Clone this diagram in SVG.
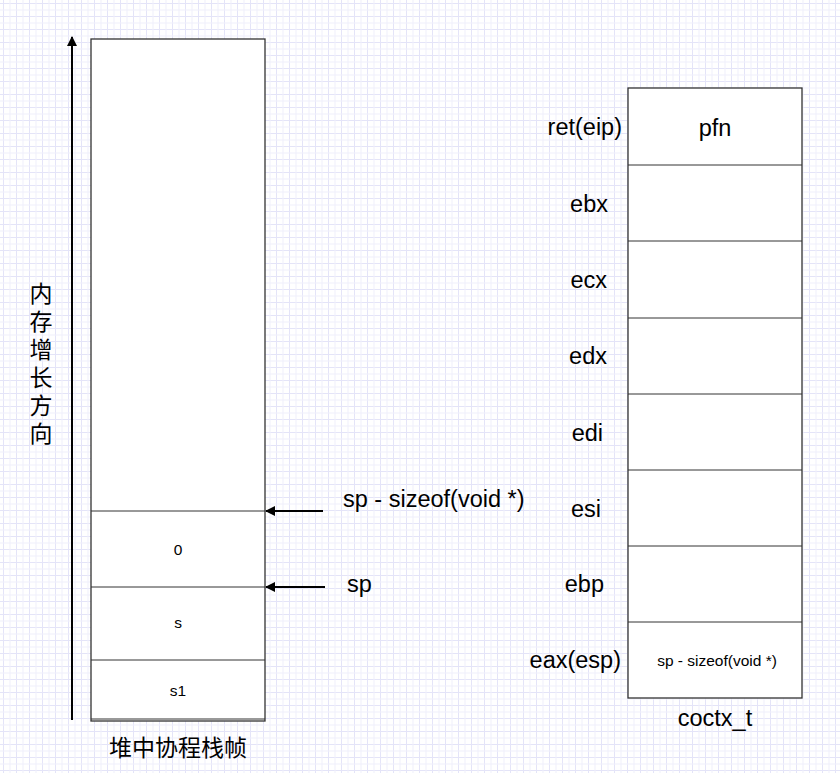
<svg xmlns="http://www.w3.org/2000/svg" width="840" height="773" viewBox="0 0 840 773">
<defs>
<pattern id="grid" width="13" height="13" patternUnits="userSpaceOnUse">
<rect width="13" height="13" fill="#ffffff"/>
<path d="M3.5 0V13M0 3.5H13" stroke="#e4e4f8" stroke-width="1"/>
<path d="M10 0V13M0 10H13" stroke="#f0f0fb" stroke-width="1"/>
</pattern>
<marker id="arr" markerWidth="10" markerHeight="10" refX="9" refY="5" orient="auto" markerUnits="userSpaceOnUse">
<path d="M0 0L10 5L0 10Z" fill="#000"/>
</marker>
</defs>
<style>
.box{fill:#fff;stroke:#333;stroke-width:1.3}
.div{stroke:#333;stroke-width:1}
.t{font-family:"Liberation Sans",Arial,sans-serif;fill:#000}
.big{font-size:23.5px}
.sm{font-size:15.5px}
.cjk{font-family:"Noto Sans CJK SC","Liberation Sans",sans-serif;font-size:23px;fill:#000}
.vert{writing-mode:vertical-rl;letter-spacing:5px}
.con{stroke:#000;stroke-width:2;fill:none}
</style>
<rect width="840" height="773" fill="url(#grid)"/>

<g id="stack">
<rect class="box" x="91" y="39" width="174" height="682"/>
<line class="div" x1="91" y1="511" x2="265" y2="511"/>
<line class="div" x1="91" y1="587" x2="265" y2="587"/>
<line class="div" x1="91" y1="660" x2="265" y2="660"/>
<line class="div" x1="91" y1="719" x2="265" y2="719"/>
<text class="t sm" x="178" y="555" text-anchor="middle">0</text>
<text class="t sm" x="178" y="628" text-anchor="middle">s</text>
<text class="t sm" x="178" y="696" text-anchor="middle">s1</text>
<text class="cjk" font-size="24" x="178" y="756" text-anchor="middle">堆中协程栈帧</text>
</g>

<g id="growth">
<text class="cjk vert" x="41" y="282">内存增长方向</text>
</g>

<g id="labels">
<text class="t big" x="343" y="507">sp - sizeof(void *)</text>
<text class="t big" x="347" y="592">sp</text>
</g>

<g id="coctx">
<rect class="box" x="628" y="88" width="174" height="610"/>
<line class="div" x1="628" y1="165" x2="802" y2="165"/>
<line class="div" x1="628" y1="241" x2="802" y2="241"/>
<line class="div" x1="628" y1="318" x2="802" y2="318"/>
<line class="div" x1="628" y1="394" x2="802" y2="394"/>
<line class="div" x1="628" y1="470" x2="802" y2="470"/>
<line class="div" x1="628" y1="546" x2="802" y2="546"/>
<line class="div" x1="628" y1="622" x2="802" y2="622"/>
<text class="t big" x="715" y="136" text-anchor="middle">pfn</text>
<text class="t sm" x="717" y="666" text-anchor="middle">sp - sizeof(void *)</text>
<text class="t big" x="715" y="726" text-anchor="middle">coctx_t</text>
<g text-anchor="end">
<text class="t big" x="622" y="135">ret(eip)</text>
<text class="t big" x="608" y="212">ebx</text>
<text class="t big" x="607" y="288">ecx</text>
<text class="t big" x="607" y="364">edx</text>
<text class="t big" x="603" y="441">edi</text>
<text class="t big" x="601" y="517">esi</text>
<text class="t big" x="604" y="592">ebp</text>
<text class="t big" x="621" y="668">eax(esp)</text>
</g>
</g>

<g id="connectors">
<line class="con" x1="72" y1="720" x2="72" y2="37" marker-end="url(#arr)"/>
<line class="con" x1="323" y1="511" x2="266" y2="511" marker-end="url(#arr)"/>
<line class="con" x1="325" y1="587" x2="266" y2="587" marker-end="url(#arr)"/>
</g>
</svg>
